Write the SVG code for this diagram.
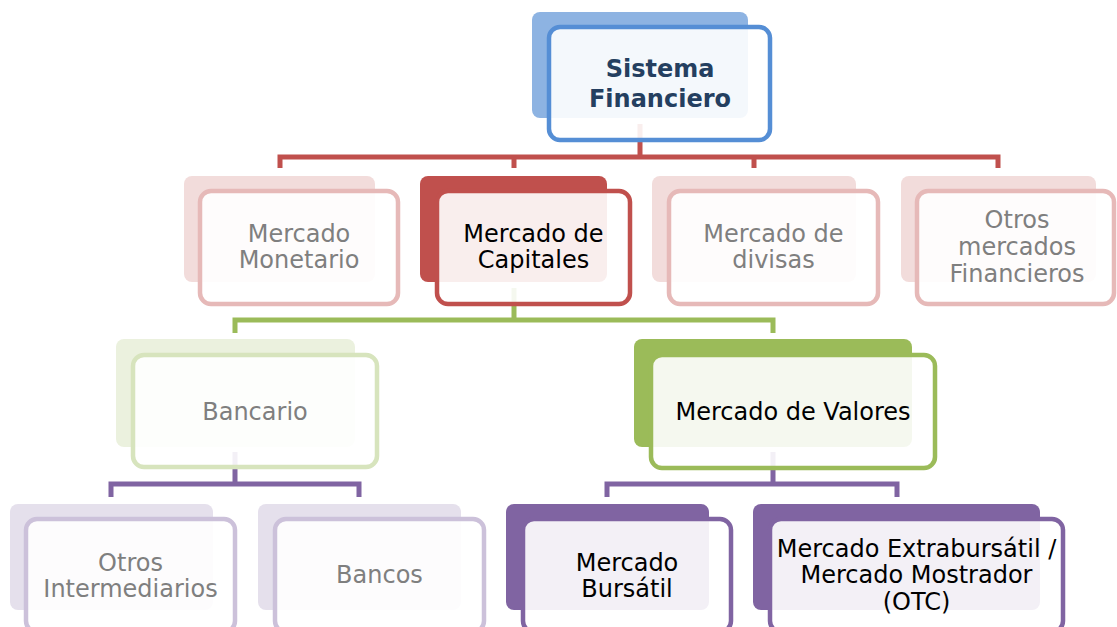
<svg xmlns="http://www.w3.org/2000/svg" width="1117" height="627" viewBox="0 0 1117 627">
<style>
text{font-family:"DejaVu Sans","Liberation Sans",sans-serif;font-size:24px;text-anchor:middle}
.b{rx:8;ry:8}
.f{rx:11;ry:11;fill:#fff;fill-opacity:.9;stroke-width:4.5}
.dk{fill:#000}
.gy{fill:#7f7f7f}
.con{fill:none;stroke-width:5}
</style>
<rect width="1117" height="627" fill="#fff"/>
<g id="connectors">
<path class="con" stroke="#c0504d" d="M640,124V157H280V168M640,157H998V168M514,157V168M754,157V168"/>
<path class="con" stroke="#9bbb59" d="M514,288V320H235V333M514,320H773V333"/>
<path class="con" stroke="#8064a2" d="M235,452V484H111V497M235,484H359V497"/>
<path class="con" stroke="#8064a2" d="M773,452V484H607V497M773,484H897V497"/>
</g>
<g id="sistema">
<rect class="b" x="532" y="12" width="216" height="106" fill="#8db3e2"/>
<rect class="f" x="549" y="27" width="221" height="113" stroke="#558ed5"/>
<text x="660" y="77" font-size="25" font-weight="bold" fill="#243f60">Sistema</text>
<text x="660" y="107" font-size="25" font-weight="bold" fill="#243f60">Financiero</text>
</g>
<g id="monetario">
<rect class="b" x="184" y="176" width="191" height="106" fill="#f2dcdb"/>
<rect class="f" x="200" y="191" width="198" height="113" stroke="#e6b9b8"/>
<text class="gy" x="299" y="242">Mercado</text>
<text class="gy" x="299" y="268">Monetario</text>
</g>
<g id="capitales">
<rect class="b" x="420" y="176" width="187" height="106" fill="#c0504d"/>
<rect class="f" x="437" y="191" width="193" height="113" stroke="#c0504d"/>
<text class="dk" x="533.5" y="242">Mercado de</text>
<text class="dk" x="533.5" y="268">Capitales</text>
</g>
<g id="divisas">
<rect class="b" x="652" y="176" width="204" height="106" fill="#f2dcdb"/>
<rect class="f" x="669" y="191" width="209" height="113" stroke="#e6b9b8"/>
<text class="gy" x="773.5" y="242">Mercado de</text>
<text class="gy" x="773.5" y="268">divisas</text>
</g>
<g id="otros-mercados">
<rect class="b" x="901" y="176" width="195" height="106" fill="#f2dcdb"/>
<rect class="f" x="917" y="191" width="197" height="113" stroke="#e6b9b8"/>
<text class="gy" x="1017" y="228">Otros</text>
<text class="gy" x="1017" y="255">mercados</text>
<text class="gy" x="1017" y="282">Financieros</text>
</g>
<g id="bancario">
<rect class="b" x="116" y="339" width="239" height="108" fill="#ebf1de"/>
<rect class="f" x="133" y="355" width="244" height="112" stroke="#d7e4bd"/>
<text class="gy" x="255" y="420">Bancario</text>
</g>
<g id="valores">
<rect class="b" x="634" y="339" width="278" height="108" fill="#9bbb59"/>
<rect class="f" x="651" y="355" width="284" height="113" stroke="#9bbb59"/>
<text class="dk" x="793" y="420">Mercado de Valores</text>
</g>
<g id="otros-intermediarios">
<rect class="b" x="10" y="504" width="203" height="106" fill="#e5e0ec"/>
<rect class="f" x="26" y="519" width="209" height="113" stroke="#ccc1da"/>
<text class="gy" x="130.5" y="571">Otros</text>
<text class="gy" x="130.5" y="597">Intermediarios</text>
</g>
<g id="bancos">
<rect class="b" x="258" y="504" width="203" height="106" fill="#e5e0ec"/>
<rect class="f" x="275" y="519" width="209" height="113" stroke="#ccc1da"/>
<text class="gy" x="379.5" y="583">Bancos</text>
</g>
<g id="bursatil">
<rect class="b" x="506" y="504" width="203" height="106" fill="#8064a2"/>
<rect class="f" x="523" y="519" width="208" height="113" stroke="#8064a2"/>
<text class="dk" x="627" y="571">Mercado</text>
<text class="dk" x="627" y="597">Bursátil</text>
</g>
<g id="extrabursatil">
<rect class="b" x="753" y="504" width="287" height="106" fill="#8064a2"/>
<rect class="f" x="770" y="519" width="293" height="113" stroke="#8064a2"/>
<text class="dk" x="916.5" y="557" font-size="23">Mercado Extrabursátil /</text>
<text class="dk" x="916.5" y="583" font-size="23">Mercado Mostrador</text>
<text class="dk" x="916.5" y="610" font-size="23">(OTC)</text>
</g>
</svg>
